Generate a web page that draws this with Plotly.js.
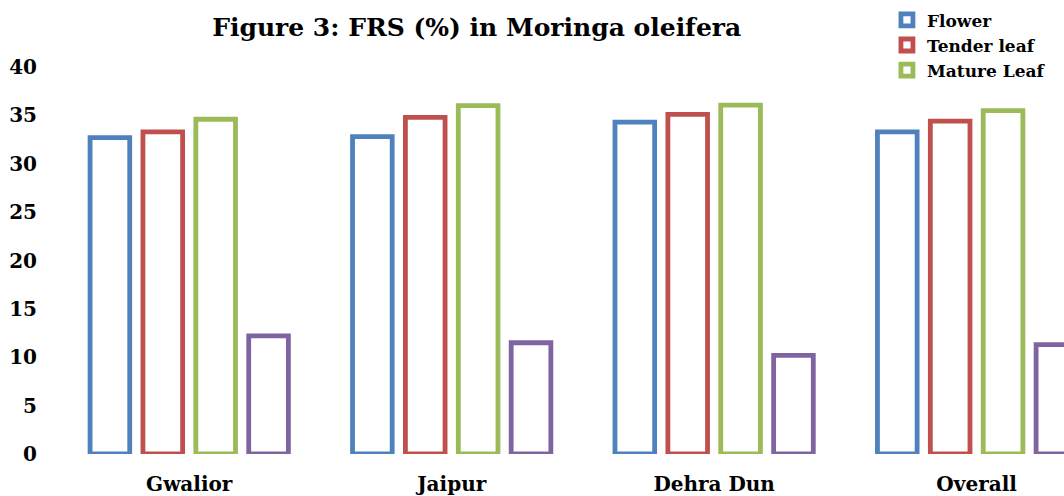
<!DOCTYPE html>
<html><head><meta charset="utf-8">
<script src="https://cdn.plot.ly/plotly-3.0.1.min.js"></script>
<style>html,body{margin:0;padding:0;background:#fff}#c{width:1064px;height:496px}</style>
</head><body><div id="c"></div>
<script>
const categories = ["Gwalior", "Jaipur", "Dehra Dun", "Overall"];
const flower = [32.7, 32.8, 34.3, 33.3];
const tenderLeaf = [33.3, 34.8, 35.1, 34.4];
const matureLeaf = [34.6, 36.0, 36.05, 35.5];
const series4 = [12.2, 11.5, 10.2, 11.3];
const yTicks = [0, 5, 10, 15, 20, 25, 30, 35, 40];

const font = "DejaVu Serif, Liberation Serif, serif";
function mk(name, y, color, show) {
  return {type: "bar", name: "<b>" + name + "</b>", x: categories, y: y, showlegend: show,
    marker: {color: "rgba(255,255,255,0)", line: {color: color, width: 4.8}},
    hoverinfo: "skip"};
}
const data = [
  mk("Flower", flower, "#4F81BD", true),
  mk("Tender leaf", tenderLeaf, "#C0504D", true),
  mk("Mature Leaf", matureLeaf, "#9BBB59", true),
  mk("Series 4", series4, "#8064A2", false)
];
const layout = {
  width: 1064, height: 496,
  margin: {l: 58, r: 0, t: 67, b: 42},
  paper_bgcolor: "#fff", plot_bgcolor: "#fff",
  barmode: "group", bargap: 0.194, bargroupgap: 0.25,
  title: {text: "<b>Figure 3: FRS (%) in Moringa oleifera</b>", x: 0.448, xanchor: "center", y: 0.945, yanchor: "middle",
    font: {family: font, size: 25, color: "#000"}},
  xaxis: {type: "category", range: [-0.5, 3.333], showgrid: false, zeroline: false, showline: false,
    ticks: "", ticklabelstandoff: 16, tickfont: {family: font, size: 20, color: "#000"}, tickprefix: "<b>", ticksuffix: "</b>"},
  yaxis: {range: [0, 40], tickvals: yTicks, ticktext: yTicks.map(v => "<b>" + v + "</b>"), showgrid: false, zeroline: false, showline: false,
    ticks: "", ticklabelstandoff: 20, tickfont: {family: font, size: 20, color: "#000"}},
  legend: {x: 0.824, xanchor: "left", y: 1.167, yanchor: "top", tracegroupgap: 0, itemwidth: 30,
    font: {family: font, size: 17, color: "#000"}, bgcolor: "rgba(0,0,0,0)"},
  showlegend: true
};
Plotly.newPlot("c", data, layout, {displayModeBar: false, staticPlot: true});
</script></body></html>
